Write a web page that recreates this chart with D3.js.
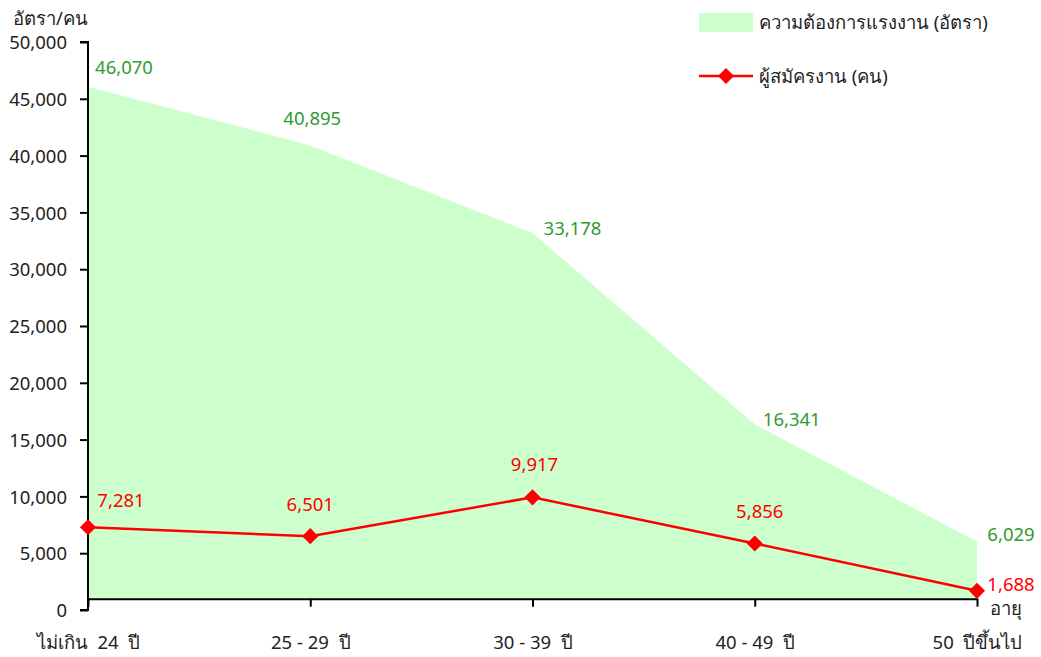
<!DOCTYPE html>
<html>
<head>
<meta charset="utf-8">
<script src="https://cdn.jsdelivr.net/npm/d3@7"></script>
<style>
  body { margin: 0; background: #fff; }
  svg text { font-family: Tahoma, "Noto Sans", "DejaVu Sans", sans-serif; font-size: 18.5px; white-space: pre; }
</style>
</head>
<body>
<svg id="chart" width="1041" height="657"></svg>
<script>
// categories (age groups)
var ageGroups = ["ไม่เกิน  24  ปี", "25 - 29  ปี", "30 - 39  ปี", "40 - 49  ปี", "50  ปีขึ้นไป"];
// demand for labour (positions)
var demand = [46070, 40895, 33178, 16341, 6029];
// applicants (persons)
var applicants = [7281, 6501, 9917, 5856, 1688];
var yTicks = [0, 5000, 10000, 15000, 20000, 25000, 30000, 35000, 40000, 45000, 50000];

// label offsets (dx, dy) from each point
var demandLabelOff = [[36, -19], [2, -27], [40, -5], [37, -5], [34, -7]];
var applicantLabelOff = [[33, -27], [0, -32], [2, -33], [5, -32], [34, -6]];

var plotL = 88, plotR = 977, plotT = 42, plotB = 610;

var green = "#2f9a2f", red = "#ff0000", fill = "#ccffcc";

var x = d3.scalePoint()
    .domain(ageGroups)
    .range([plotL, plotR]);

var y = d3.scaleLinear()
    .domain([0, 50000])
    .range([plotB, plotT]);

var crossAt = 1000; // category axis crosses here
var svg = d3.select("#chart");

// area for demand
var area = d3.area()
    .x(function(d, i) { return x(ageGroups[i]); })
    .y0(y(crossAt))
    .y1(function(d) { return y(d); });

svg.append("path")
    .datum(demand)
    .attr("d", area)
    .style("fill", fill);

// y axis
var yAxis = d3.axisLeft(y)
    .tickValues(yTicks)
    .tickSize(8)
    .tickFormat(d3.format(","));

var gy = svg.append("g")
    .attr("transform", "translate(" + plotL + ",0)")
    .call(yAxis);
gy.attr("font-size", null).attr("font-family", null);
gy.select(".domain").attr("d", "M-8," + y(50000) + "H0V" + y(0) + "H-8");
gy.selectAll("path, line").attr("stroke", "#000").attr("stroke-width", 2);
gy.selectAll("text").attr("x", -21).attr("dy", "0.36em").style("fill", "#222");

// x axis
var xAxis = d3.axisBottom(x)
    .tickSize(8)
    .tickSizeOuter(0);

var gx = svg.append("g")
    .attr("transform", "translate(0," + y(crossAt) + ")")
    .call(xAxis);
gx.attr("font-size", null).attr("font-family", null);
gx.selectAll("path, line").attr("stroke", "#000").attr("stroke-width", 2);
gx.selectAll("text").attr("y", 0).attr("dy", 0)
    .attr("transform", "translate(0," + (649 - y(crossAt)) + ")")
    .style("fill", "#222");

// axis titles
svg.append("text")
    .attr("x", 13).attr("y", 25)
    .style("fill", "#222")
    .text("อัตรา/คน");

svg.append("text")
    .attr("x", 990).attr("y", 615)
    .style("fill", "#222")
    .text("อายุ");

// applicants line
var line = d3.line()
    .x(function(d, i) { return x(ageGroups[i]); })
    .y(function(d) { return y(d); });

svg.append("path")
    .datum(applicants)
    .attr("d", line)
    .style("fill", "none")
    .style("stroke", red)
    .style("stroke-width", 2.5);

var diamond = d3.symbol().type(d3.symbolSquare).size(130);

svg.selectAll(".marker")
    .data(applicants)
    .enter()
    .append("path")
    .attr("class", "marker")
    .attr("d", diamond)
    .attr("transform", function(d, i) { return "translate(" + x(ageGroups[i]) + "," + y(d) + ") rotate(45)"; })
    .style("fill", red);

// data labels
var fmt = d3.format(",");
svg.selectAll(".dlabel")
    .data(demand)
    .enter()
    .append("text")
    .attr("x", function(d, i) { return x(ageGroups[i]) + demandLabelOff[i][0]; })
    .attr("y", function(d, i) { return y(d) + demandLabelOff[i][1]; })
    .attr("text-anchor", "middle")
    .attr("dy", "0.35em")
    .style("fill", green)
    .text(fmt);

svg.selectAll(".alabel")
    .data(applicants)
    .enter()
    .append("text")
    .attr("x", function(d, i) { return x(ageGroups[i]) + applicantLabelOff[i][0]; })
    .attr("y", function(d, i) { return y(d) + applicantLabelOff[i][1]; })
    .attr("text-anchor", "middle")
    .attr("dy", "0.35em")
    .style("fill", red)
    .text(fmt);

// legend
var legend = svg.append("g");
legend.append("rect")
    .attr("x", 699).attr("y", 13)
    .attr("width", 54).attr("height", 19)
    .style("fill", fill);
legend.append("text")
    .attr("x", 759).attr("y", 29)
    .style("fill", "#222")
    .text("ความต้องการแรงงาน (อัตรา)");

legend.append("line")
    .attr("x1", 699).attr("x2", 753)
    .attr("y1", 76).attr("y2", 76)
    .style("stroke", red)
    .style("stroke-width", 2.5);
legend.append("path")
    .attr("d", diamond)
    .attr("transform", "translate(726,76) rotate(45)")
    .style("fill", red);
legend.append("text")
    .attr("x", 759).attr("y", 83)
    .style("fill", "#222")
    .text("ผู้สมัครงาน (คน)");
</script>
</body>
</html>
